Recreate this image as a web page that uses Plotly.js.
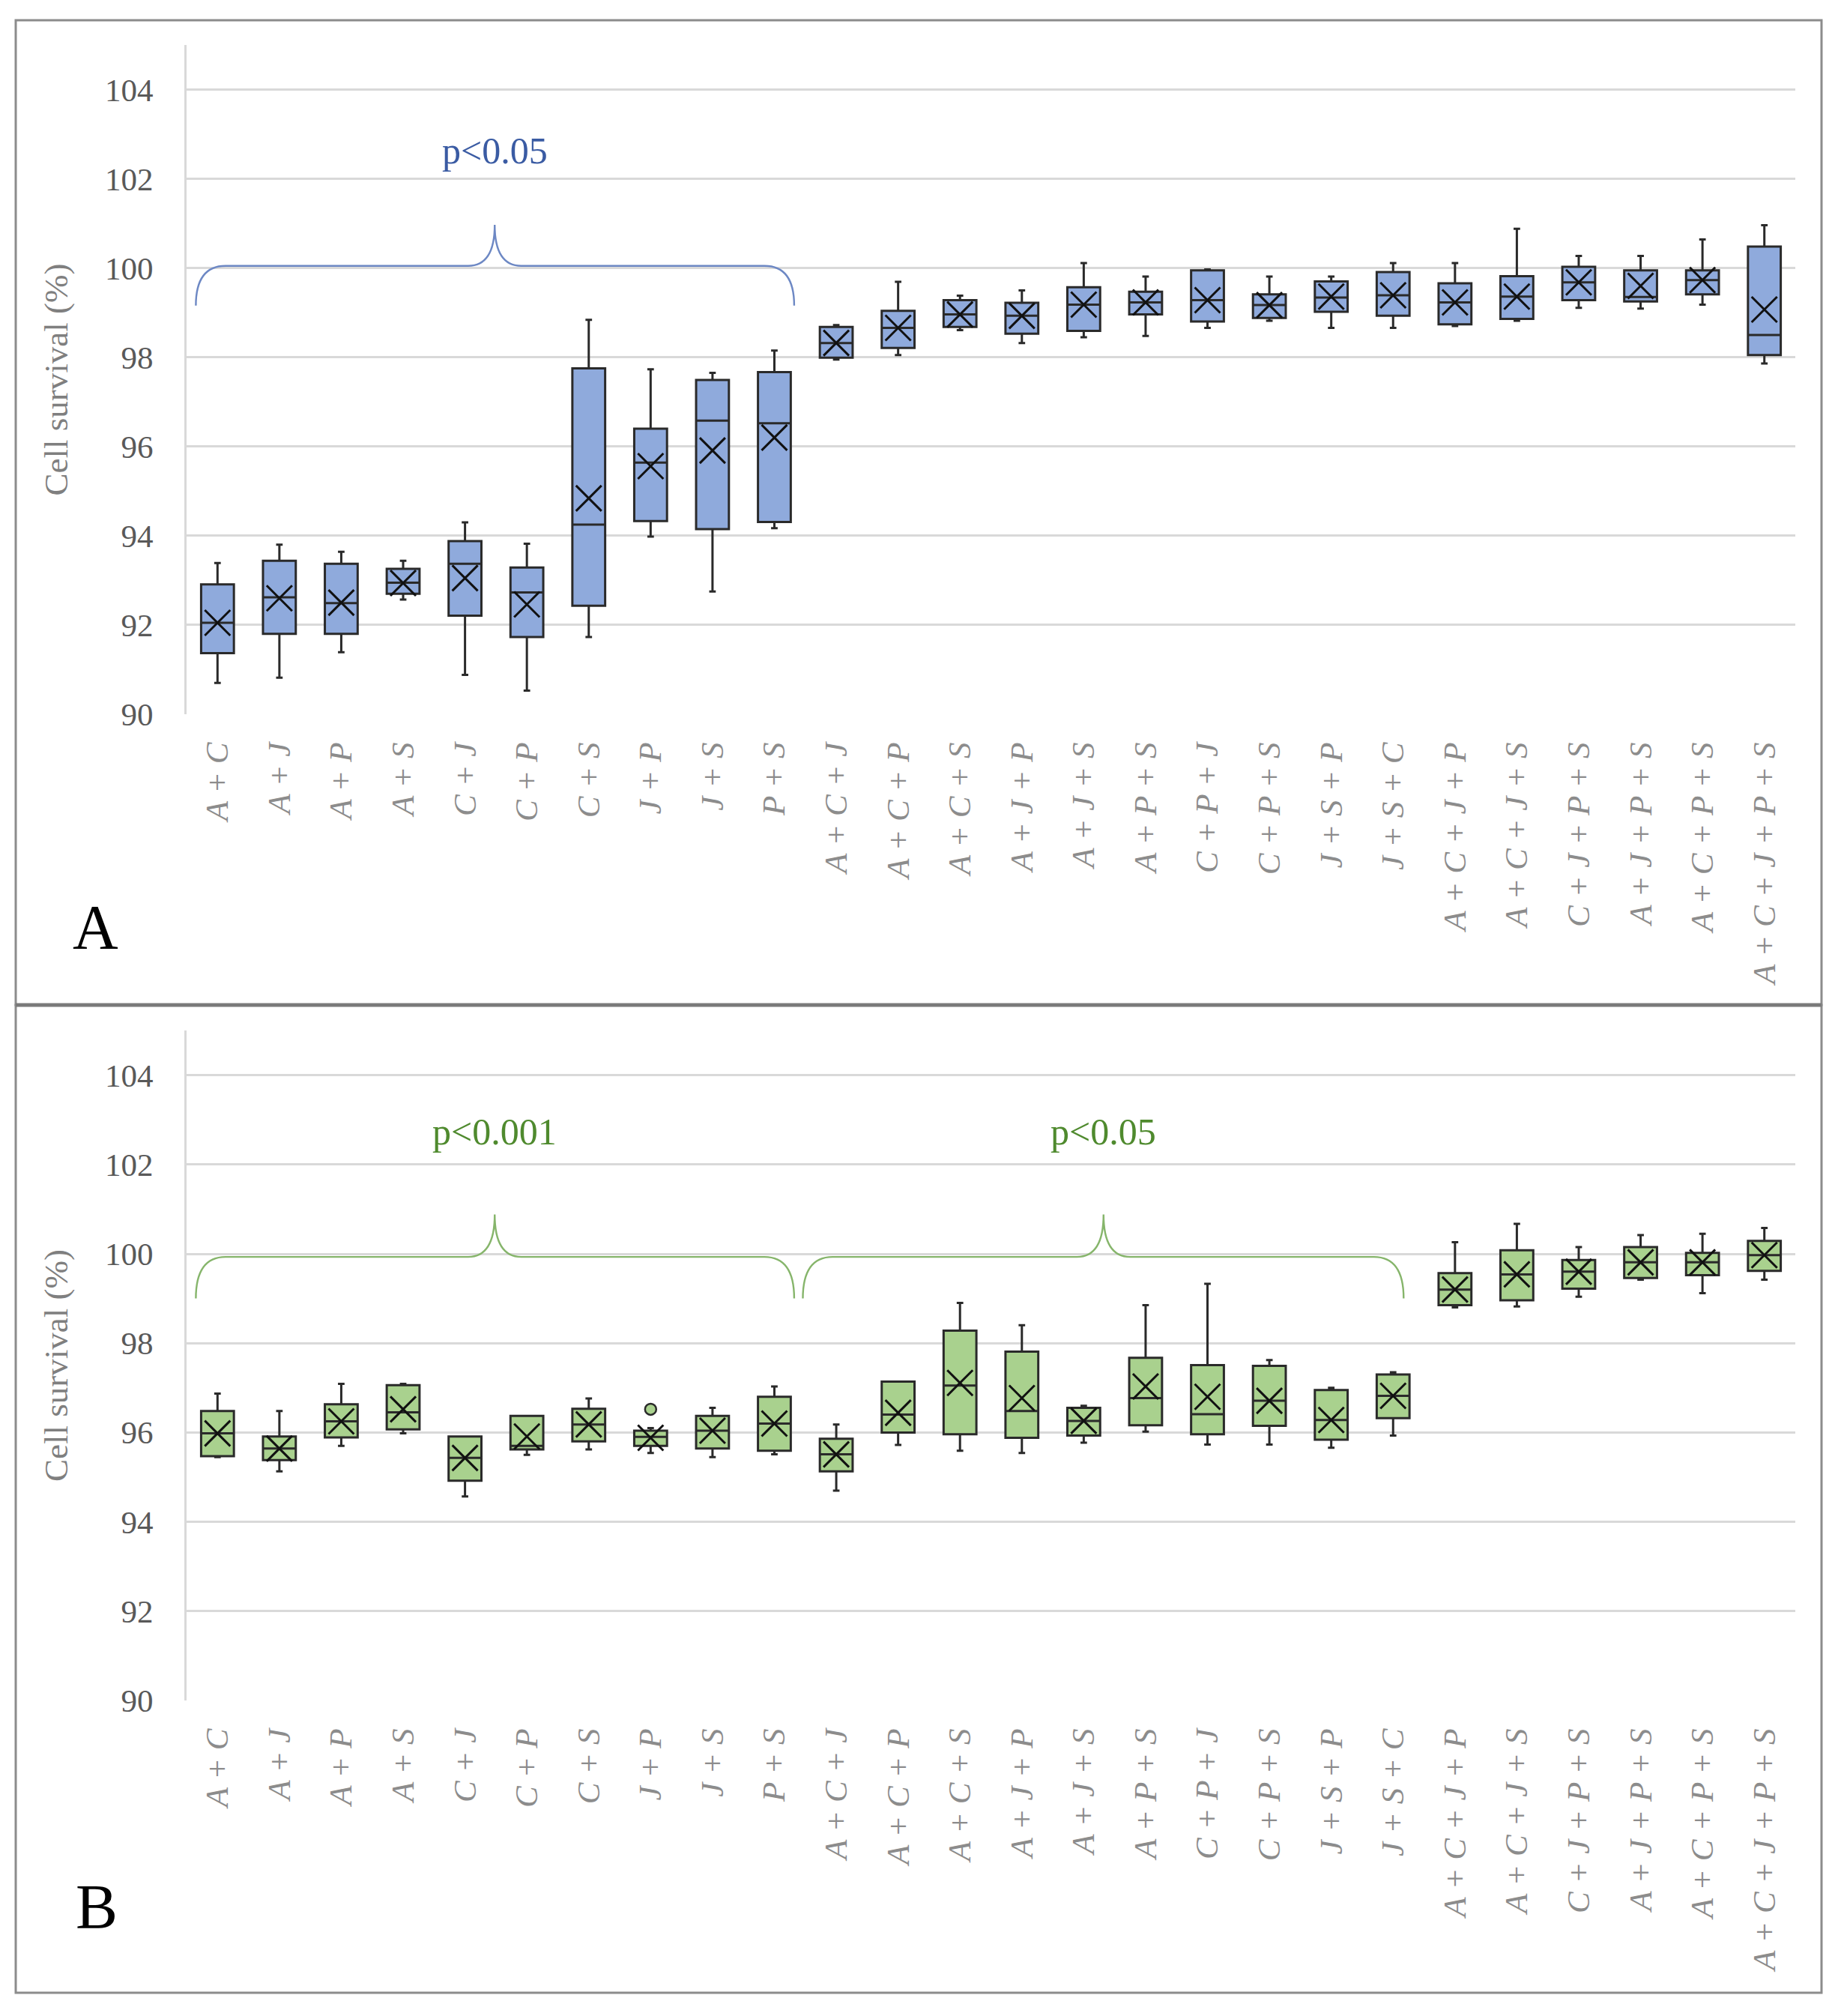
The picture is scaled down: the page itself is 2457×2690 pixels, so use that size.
<!DOCTYPE html>
<html><head><meta charset="utf-8">
<script src="https://cdn.plot.ly/plotly-3.0.1.min.js"></script>
<style>html,body{margin:0;padding:0;background:#fff}</style>
</head><body>
<div id="chart" style="width:2457px;height:2690px"></div>
<script>
// ---------- data ----------
const categories = ['A + C','A + J','A + P','A + S','C + J','C + P','C + S','J + P','J + S','P + S',
  'A + C + J','A + C + P','A + C + S','A + J + P','A + J + S','A + P + S','C + P + J','C + P + S','J + S + P','J + S + C',
  'A + C + J + P','A + C + J + S','C + J + P + S','A + J + P + S','A + C + P + S','A + C + J + P + S'];

// Panel A
const aLower  = [90.70, 90.82, 91.39, 92.57, 90.88, 90.53, 91.73, 93.98, 92.75, 94.17, 97.95, 98.05, 98.61, 98.32, 98.45, 98.48, 98.66, 98.82, 98.66, 98.66, 98.70, 98.82, 99.11, 99.09, 99.18, 97.86];
const aQ1     = [91.37, 91.80, 91.80, 92.70, 92.21, 91.73, 92.43, 94.33, 94.15, 94.31, 97.99, 98.21, 98.68, 98.53, 98.59, 98.96, 98.80, 98.88, 99.02, 98.93, 98.74, 98.86, 99.28, 99.25, 99.41, 98.05];
const aMedian = [92.05, 92.62, 92.49, 92.95, 93.37, 92.73, 94.25, 95.64, 96.58, 96.52, 98.32, 98.66, 98.96, 98.93, 99.18, 99.23, 99.28, 99.17, 99.34, 99.39, 99.23, 99.36, 99.68, 99.35, 99.73, 98.50];
const aQ3     = [92.91, 93.44, 93.37, 93.26, 93.88, 93.29, 97.75, 96.40, 97.49, 97.67, 98.68, 99.04, 99.28, 99.22, 99.57, 99.47, 99.95, 99.41, 99.70, 99.91, 99.66, 99.82, 100.03, 99.95, 99.95, 100.48];
const aUpper  = [93.39, 93.80, 93.64, 93.44, 94.30, 93.82, 98.84, 97.73, 97.65, 98.15, 98.72, 99.69, 99.38, 99.50, 100.11, 99.81, 99.97, 99.81, 99.81, 100.11, 100.11, 100.88, 100.27, 100.27, 100.64, 100.96];
const aMean   = [92.05, 92.60, 92.50, 92.94, 93.05, 92.46, 94.84, 95.56, 95.91, 96.20, 98.32, 98.66, 98.96, 98.93, 99.18, 99.23, 99.28, 99.17, 99.36, 99.39, 99.23, 99.36, 99.68, 99.60, 99.73, 99.07];

// Panel B
const bLower  = [95.45, 95.13, 95.70, 95.98, 94.57, 95.50, 95.62, 95.54, 95.45, 95.51, 94.70, 95.72, 95.59, 95.54, 95.77, 96.02, 95.73, 95.73, 95.66, 95.93, 98.80, 98.82, 99.04, 99.42, 99.12, 99.42];
const bQ1     = [95.47, 95.38, 95.89, 96.07, 94.92, 95.62, 95.80, 95.70, 95.64, 95.59, 95.13, 96.00, 95.96, 95.88, 95.93, 96.16, 95.96, 96.15, 95.84, 96.32, 98.85, 98.96, 99.22, 99.46, 99.52, 99.62];
const bMedian = [95.98, 95.64, 96.25, 96.45, 95.43, 95.70, 96.18, 95.90, 96.04, 96.20, 95.51, 96.40, 97.05, 96.48, 96.26, 96.77, 96.41, 96.71, 96.28, 96.82, 99.20, 99.54, 99.60, 99.81, 99.81, 99.97];
const bQ3     = [96.48, 95.91, 96.63, 97.06, 95.91, 96.37, 96.53, 96.04, 96.37, 96.80, 95.86, 97.14, 98.28, 97.81, 96.55, 97.67, 97.51, 97.49, 96.95, 97.30, 99.57, 100.08, 99.86, 100.15, 100.02, 100.29];
const bUpper  = [96.87, 96.48, 97.09, 97.09, 95.91, 96.37, 96.76, 96.10, 96.55, 97.03, 96.18, 97.14, 98.90, 98.40, 96.60, 98.85, 99.33, 97.62, 97.00, 97.35, 100.26, 100.67, 100.15, 100.42, 100.45, 100.58];
const bMean   = [95.98, 95.64, 96.25, 96.52, 95.43, 95.91, 96.18, 95.88, 96.04, 96.20, 95.51, 96.44, 97.11, 96.77, 96.26, 97.03, 96.80, 96.71, 96.28, 96.82, 99.20, 99.54, 99.60, 99.81, 99.81, 99.97];
const bOutlierCat = ['J + P'];
const bOutlierVal = [96.52];

const yTicks = [90, 92, 94, 96, 98, 100, 102, 104];
const yTitle = 'Cell survival (%)';
const panelLetters = ['A', 'B'];
const sigA = 'p<0.05';
const sigB = ['p<0.001', 'p<0.05'];

// brace spans in category positions: [start, end, tip]
const braceA = [[-0.35, 9.32, 4.48]];
const braceB = [[-0.35, 9.32, 4.48], [9.46, 19.17, 14.32]];

// ---------- styling ----------
const W = 2457, H = 2690;
const serif = 'Liberation Serif, Times New Roman, serif';
const blueFill = '#8FAADC', greenFill = '#A9D18E';
const boxLine = '#2a2a2a';
const xd = [249 / W, 2396 / W];
const ydA = [1 - 953 / H, 1 - 60 / H];
const ydB = [1 - 2269 / H, 1 - 1375 / H];

function boxTrace(lower, q1, med, q3, upper, fill, xa, ya) {
  return {
    type: 'box', x: categories, q1: q1, median: med, q3: q3,
    lowerfence: lower, upperfence: upper,
    boxpoints: false, fillcolor: fill,
    line: {color: boxLine, width: 3}, whiskerwidth: 0.2,
    xaxis: xa, yaxis: ya, hoverinfo: 'skip', showlegend: false
  };
}
function meanTrace(mean, xa, ya) {
  return {
    type: 'scatter', mode: 'markers', x: categories, y: mean,
    marker: {symbol: 'x-thin-open', size: 34, color: '#111', line: {color: '#111', width: 3}},
    xaxis: xa, yaxis: ya, hoverinfo: 'skip', showlegend: false
  };
}

const data = [
  boxTrace(aLower, aQ1, aMedian, aQ3, aUpper, blueFill, 'x', 'y'),
  meanTrace(aMean, 'x', 'y'),
  boxTrace(bLower, bQ1, bMedian, bQ3, bUpper, greenFill, 'x2', 'y2'),
  meanTrace(bMean, 'x2', 'y2'),
  {type: 'scatter', mode: 'markers', x: bOutlierCat, y: bOutlierVal,
   marker: {symbol: 'circle', size: 15, color: greenFill, line: {color: boxLine, width: 2.5}},
   xaxis: 'x2', yaxis: 'y2', hoverinfo: 'skip', showlegend: false}
];

function xAxis(domain, anchor) {
  return {
    domain: domain, anchor: anchor, type: 'category', categoryorder: 'array', categoryarray: categories,
    range: [-0.5, categories.length - 0.5],
    tickangle: -90, ticks: '', showgrid: false, showline: false, zeroline: false,
    tickfont: {family: serif, size: 43, color: '#8c8c8c', style: 'italic'},
    ticklabelstandoff: 28, fixedrange: true, automargin: false
  };
}
function yAxis(domain, anchor) {
  return {
    domain: domain, anchor: anchor, range: [90, 105], tickmode: 'array', tickvals: yTicks,
    ticks: '', showgrid: true, gridcolor: '#d9d9d9', gridwidth: 3,
    showline: true, linecolor: '#d9d9d9', linewidth: 3, zeroline: false,
    tickfont: {family: serif, size: 43, color: '#595959'},
    ticklabelstandoff: 33, fixedrange: true, automargin: false,
    title: {text: yTitle, font: {family: serif, size: 45, color: '#7f7f7f'}, standoff: 36}
  };
}

function bracePath(b, yl, ye, yt) {
  const [x0, x1, xm] = b;
  const de = 0.48, dm = 0.43;
  return `M ${x0},${ye} Q ${x0},${yl} ${x0 + de},${yl} L ${xm - dm},${yl} Q ${xm},${yl} ${xm},${yt} ` +
         `Q ${xm},${yl} ${xm + dm},${yl} L ${x1 - de},${yl} Q ${x1},${yl} ${x1},${ye}`;
}

const shapes = [
  {type: 'rect', xref: 'paper', yref: 'paper', x0: 21 / W, x1: 2431 / W, y0: 1 - 1341 / H, y1: 1 - 27 / H,
   line: {color: '#8c8c8c', width: 3}, layer: 'below'},
  {type: 'rect', xref: 'paper', yref: 'paper', x0: 21 / W, x1: 2431 / W, y0: 1 - 2659 / H, y1: 1 - 1341 / H,
   line: {color: '#8c8c8c', width: 3}, layer: 'below'},
  {type: 'line', xref: 'paper', yref: 'paper', x0: 21 / W, x1: 2431 / W, y0: 1 - 1341 / H, y1: 1 - 1341 / H,
   line: {color: '#7a7a7a', width: 5}, layer: 'below'}
];
braceA.forEach(b => shapes.push({type: 'path', xref: 'x', yref: 'y', path: bracePath(b, 100.05, 99.16, 100.97),
  line: {color: '#6D88C4', width: 2.4}}));
braceB.forEach(b => shapes.push({type: 'path', xref: 'x2', yref: 'y2', path: bracePath(b, 99.93, 99.0, 100.88),
  line: {color: '#86B56B', width: 2.4}}));

const annotations = [
  {xref: 'x', yref: 'y', x: braceA[0][2], y: 102.63, text: sigA, showarrow: false,
   font: {family: serif, size: 50, color: '#3A5BA3'}, xanchor: 'center', yanchor: 'middle'},
  {xref: 'x2', yref: 'y2', x: braceB[0][2], y: 102.74, text: sigB[0], showarrow: false,
   font: {family: serif, size: 50, color: '#4F8A2E'}, xanchor: 'center', yanchor: 'middle'},
  {xref: 'x2', yref: 'y2', x: braceB[1][2], y: 102.74, text: sigB[1], showarrow: false,
   font: {family: serif, size: 50, color: '#4F8A2E'}, xanchor: 'center', yanchor: 'middle'},
  {xref: 'paper', yref: 'paper', x: 127 / W, y: 1 - 1237 / H, text: panelLetters[0], showarrow: false,
   font: {family: serif, size: 84, color: '#000'}, xanchor: 'center', yanchor: 'middle'},
  {xref: 'paper', yref: 'paper', x: 129 / W, y: 1 - 2544 / H, text: panelLetters[1], showarrow: false,
   font: {family: serif, size: 84, color: '#000'}, xanchor: 'center', yanchor: 'middle'}
];

const layout = {
  width: W, height: H, margin: {l: 0, r: 0, t: 0, b: 0, pad: 0},
  paper_bgcolor: '#ffffff', plot_bgcolor: '#ffffff', showlegend: false, boxgap: 0.47, boxgroupgap: 0,
  xaxis: xAxis(xd, 'y'), yaxis: yAxis(ydA, 'x'),
  xaxis2: xAxis(xd, 'y2'), yaxis2: yAxis(ydB, 'x2'),
  shapes: shapes, annotations: annotations
};

Plotly.newPlot('chart', data, layout, {displayModeBar: false, staticPlot: true});
</script>
</body></html>
